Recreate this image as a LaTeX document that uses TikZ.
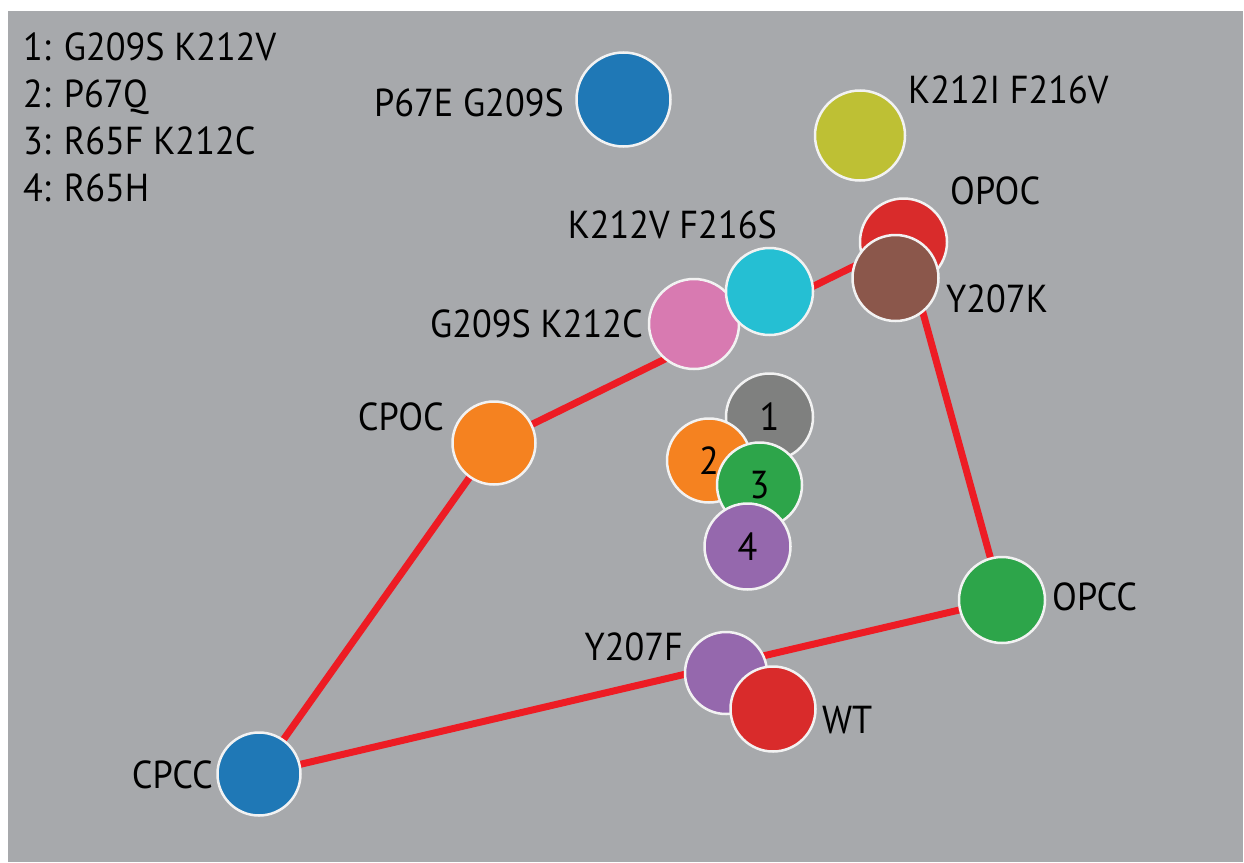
\documentclass[tikz,border=0pt]{standalone}
\usepackage{fontspec}
\setmainfont{PT Sans}[FakeStretch=0.93]
\usetikzlibrary{backgrounds}
\pgfdeclarelayer{links}
\pgfsetlayers{background,links,main}

\definecolor{panel}{HTML}{A7A9AC}
\definecolor{rim}{HTML}{F2F2F2}
\definecolor{linkred}{HTML}{ED1C24}
\definecolor{cblue}{HTML}{1F78B6}
\definecolor{colive}{HTML}{BEC034}
\definecolor{cred}{HTML}{D92B2B}
\definecolor{cbrown}{HTML}{8B574B}
\definecolor{ccyan}{HTML}{25BFD3}
\definecolor{cpink}{HTML}{D87AB1}
\definecolor{corange}{HTML}{F58220}
\definecolor{cgray}{HTML}{7F807F}
\definecolor{cgreen}{HTML}{2DA54A}
\definecolor{cpurple}{HTML}{9568AD}

\begin{document}
\begin{tikzpicture}[x=1pt,y=-1pt,
  dot/.style={circle,draw=rim,line width=2.5pt,inner sep=0pt,minimum size=#1,
              font=\fontsize{39}{41}\selectfont},
  dot/.default=86pt,
  lab/.style={inner sep=0pt,font=\fontsize{39}{41}\selectfont,anchor=base west},
  labl/.style={lab,anchor=base east},
  link/.style={draw=linkred,line width=7pt}]

\useasboundingbox (0,0) rectangle (1244,862);
\begin{pgfonlayer}{background}
  \fill[white] (0,0) rectangle (1244,862);
  \fill[panel] (8,11) rectangle (1243,862);
\end{pgfonlayer}

% legend
\node[lab] (leg1) at (23,60)  {1: G209S K212V};
\node[lab] (leg2) at (23,107) {2: P67Q};
\node[lab] (leg3) at (23,154) {3: R65F K212C};
\node[lab] (leg4) at (23,201) {4: R65H};

% variants
\node[dot=94pt,fill=cblue]   (p67e)  at (623.5,99.5) {};
\node[dot=90pt,fill=colive]  (k212i) at (860,135.5) {};
\node[dot=87pt,fill=cred]    (opoc)  at (903.5,242) {};
\node[dot=86pt,fill=cbrown]  (y207k) at (895.5,278) {};
\node[dot=90pt,fill=cpink]   (g209s) at (694,324) {};
\node[dot=87pt,fill=ccyan]   (k212v) at (769.5,291.5) {};
\node[dot=83pt,fill=corange] (cpoc)  at (494,443) {};
\node[dot=87pt,fill=cgray]   (m1)    at (769.5,417) {1};
\node[dot=84pt,fill=corange] (m2)    at (709,460.5) {2};
\node[dot=85pt,fill=cgreen]  (m3)    at (759.5,485) {3};
\node[dot=86pt,fill=cpurple] (m4)    at (747.5,546.5) {4};
\node[dot=86pt,fill=cgreen]  (opcc)  at (1002,600) {};
\node[dot=82pt,fill=cpurple] (y207f) at (726,673) {};
\node[dot=85pt,fill=cred]    (wt)    at (773,709) {};
\node[dot=83pt,fill=cblue]   (cpcc)  at (259,774) {};

% connectors between the four states
\begin{pgfonlayer}{links}
  \draw[link] (cpcc.center) -- (cpoc.center) -- (opoc.center)
              -- (opcc.center) -- (cpcc.center);
\end{pgfonlayer}

% labels
\node[labl] (tp67e)  at (564,116) {P67E G209S};
\node[lab]  (tk212i) at (908,103) {K212I F216V};
\node[lab]  (topoc)  at (950,204) {OPOC};
\node[labl] (tk212v) at (777,238) {K212V F216S};
\node[lab]  (ty207k) at (946,312) {Y207K};
\node[labl] (tg209s) at (643,337) {G209S K212C};
\node[labl] (tcpoc)  at (444,430) {CPOC};
\node[lab]  (topcc)  at (1052,610) {OPCC};
\node[labl] (ty207f) at (683,660) {Y207F};
\node[lab]  (twt)    at (822,733) {WT};
\node[labl] (tcpcc)  at (213,788) {CPCC};
\end{tikzpicture}
\end{document}
